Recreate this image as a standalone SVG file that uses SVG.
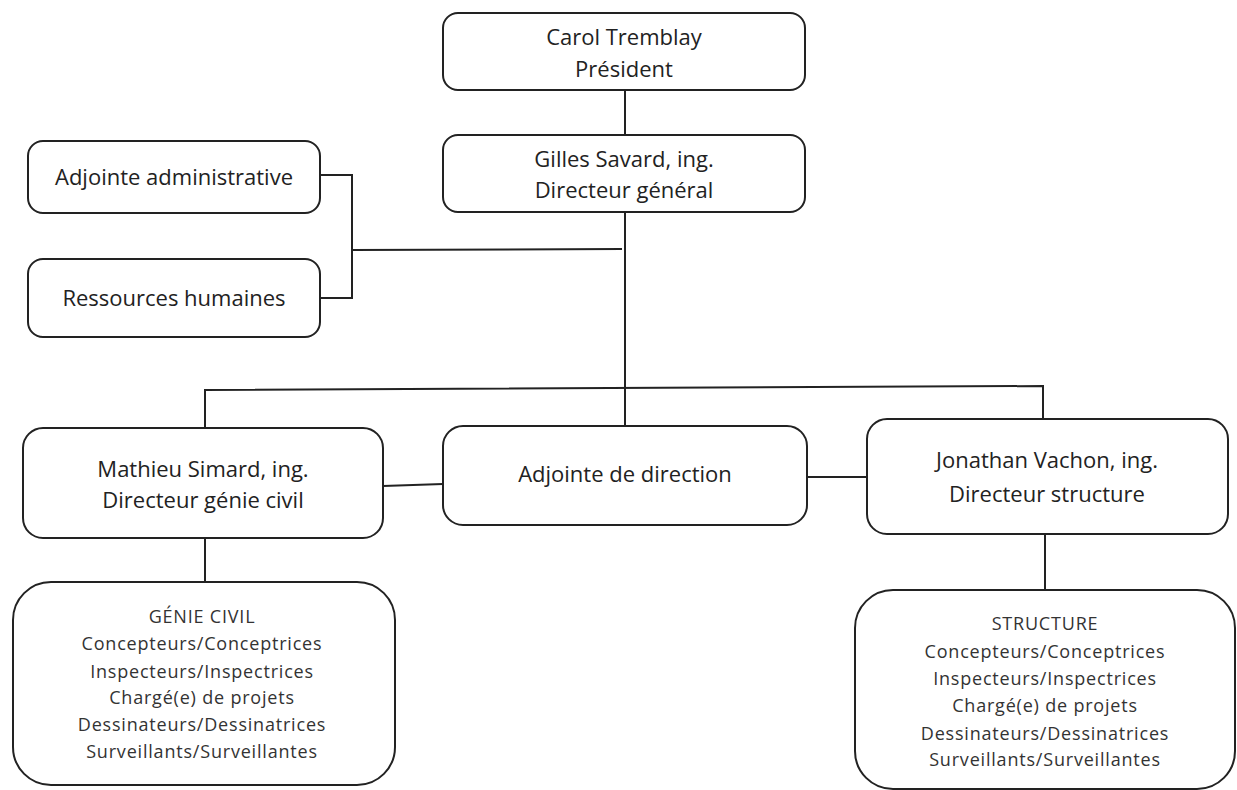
<svg xmlns="http://www.w3.org/2000/svg" width="1237" height="790" viewBox="0 0 1237 790">
<style>
.box{fill:#fff;stroke:#222;stroke-width:2}
.big{fill:#fff;stroke:#222;stroke-width:2}
.t{font-family:"Open Sans","Noto Sans",sans-serif;font-size:22px;fill:#222;text-anchor:middle}
.s{font-family:"Open Sans","Noto Sans",sans-serif;font-size:18px;fill:#333;text-anchor:middle;letter-spacing:0.8px}
.c{fill:none;stroke:#222;stroke-width:2}
</style>
<rect width="1237" height="790" fill="#fff"/>
<g id="connectors">
<path class="c" d="M625 90V135"/>
<path class="c" d="M625 212V426"/>
<path class="c" d="M320 175H352V298H320"/>
<path class="c" d="M352 250L622 249"/>
<path class="c" d="M205 428V390L1043 386V419"/>
<path class="c" d="M383 486L443 484"/>
<path class="c" d="M807 477H867"/>
<path class="c" d="M205 538V582"/>
<path class="c" d="M1045 534V590"/>
</g>
<g id="n-carol">
<rect class="box" x="443" y="13" width="362" height="77" rx="15"/>
<text class="t" x="624" y="45">Carol Tremblay</text>
<text class="t" x="624" y="77">Président</text>
</g>
<g id="n-gilles">
<rect class="box" x="443" y="135" width="362" height="77" rx="15"/>
<text class="t" x="624" y="167">Gilles Savard, ing.</text>
<text class="t" x="624" y="198">Directeur général</text>
</g>
<g id="n-admin">
<rect class="box" x="28" y="141" width="292" height="72" rx="15"/>
<text class="t" x="174" y="185">Adjointe administrative</text>
</g>
<g id="n-rh">
<rect class="box" x="28" y="259" width="292" height="78" rx="15"/>
<text class="t" x="174" y="306">Ressources humaines</text>
</g>
<g id="n-mathieu">
<rect class="box" x="23" y="428" width="360" height="110" rx="20"/>
<text class="t" x="203" y="477">Mathieu Simard, ing.</text>
<text class="t" x="203" y="508">Directeur génie civil</text>
</g>
<g id="n-adjdir">
<rect class="box" x="443" y="426" width="364" height="99" rx="20"/>
<text class="t" x="625" y="482">Adjointe de direction</text>
</g>
<g id="n-jonathan">
<rect class="box" x="867" y="419" width="361" height="115" rx="20"/>
<text class="t" x="1047" y="468">Jonathan Vachon, ing.</text>
<text class="t" x="1047" y="502">Directeur structure</text>
</g>
<g id="n-genie">
<rect class="big" x="13" y="582" width="382" height="203" rx="38"/>
<text class="s" x="202" y="623">GÉNIE CIVIL</text>
<text class="s" x="202" y="650">Concepteurs/Conceptrices</text>
<text class="s" x="202" y="678">Inspecteurs/Inspectrices</text>
<text class="s" x="202" y="704">Chargé(e) de projets</text>
<text class="s" x="202" y="731">Dessinateurs/Dessinatrices</text>
<text class="s" x="202" y="758">Surveillants/Surveillantes</text>
</g>
<g id="n-structure">
<rect class="big" x="855" y="590" width="380" height="199" rx="38"/>
<text class="s" x="1045" y="630">STRUCTURE</text>
<text class="s" x="1045" y="658">Concepteurs/Conceptrices</text>
<text class="s" x="1045" y="685">Inspecteurs/Inspectrices</text>
<text class="s" x="1045" y="712">Chargé(e) de projets</text>
<text class="s" x="1045" y="740">Dessinateurs/Dessinatrices</text>
<text class="s" x="1045" y="766">Surveillants/Surveillantes</text>
</g>
</svg>
